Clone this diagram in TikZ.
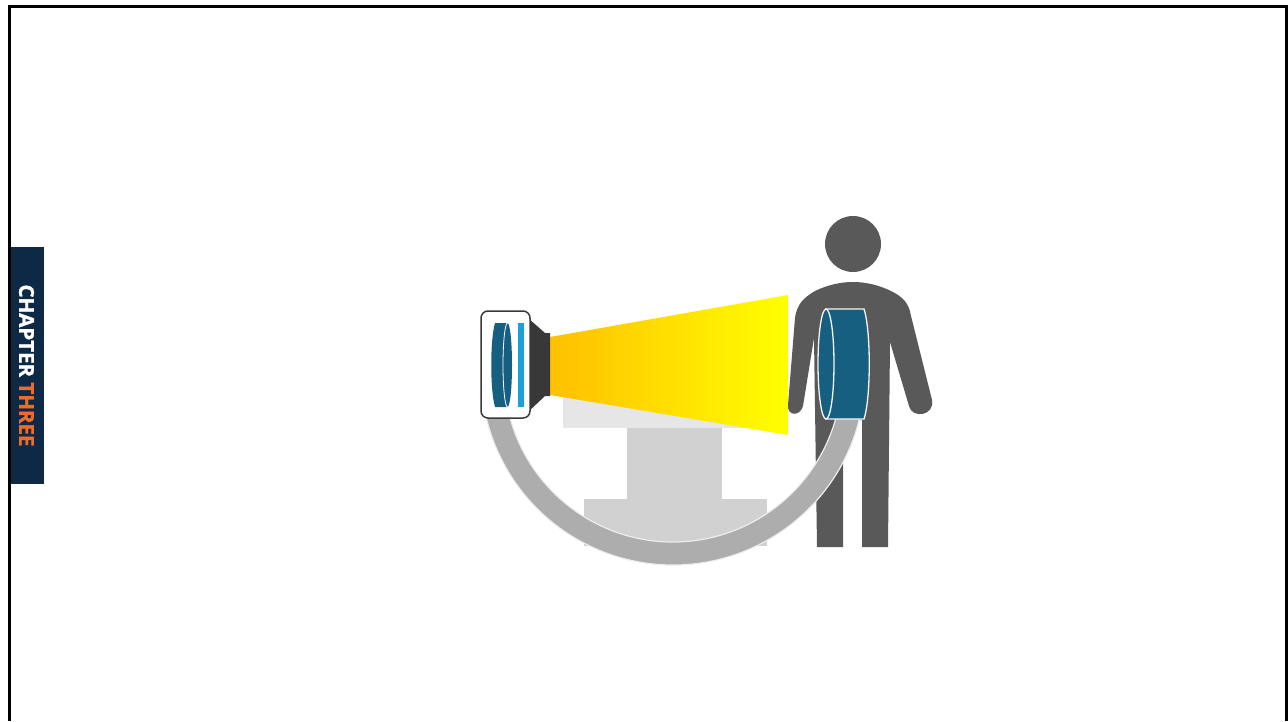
\documentclass[tikz,border=0pt]{standalone}
\usepackage{fontspec}
\usepackage{tikz}
\usetikzlibrary{calc}
\newfontfamily\chapfont{Open Sans}[BoldFeatures={FakeBold=1.4}]
\definecolor{chapnavy}{HTML}{0E2945}
\definecolor{chaporange}{HTML}{EE6C2B}
\definecolor{armgray}{HTML}{ADADAD}
\definecolor{armedge}{HTML}{EDEDED}
\definecolor{slabgray}{HTML}{E6E6E6}
\definecolor{standgray}{HTML}{D1D1D1}
\definecolor{tubedark}{HTML}{383838}
\definecolor{detblue}{HTML}{165F80}
\definecolor{filterblue}{HTML}{1BA1D9}
\definecolor{persongray}{HTML}{595959}
\definecolor{beamorange}{HTML}{FFC000}
\definecolor{beamyellow}{HTML}{FFFF00}
\tikzset{cylface/.style={fill=detblue, draw=white!92!gray, line width=1.3pt}}

\begin{document}
\begin{tikzpicture}[x=1pt,y=-1pt]
  \useasboundingbox (0,0) rectangle (1288,721);
  % page frame, open at the bottom
  \draw[line width=3pt] (9.5,721) -- (9.5,6.5) -- (1286.5,6.5) -- (1286.5,721);
  % chapter tab
  \fill[chapnavy] (11,247) rectangle (44,484);
  \node[rotate=-90, inner sep=0pt, text=white,
    font=\chapfont\bfseries\fontsize{20.5}{20.5}\selectfont] (chap) at (26.5,365.5)
    {CHAPTER {\color{chaporange}THREE}};

  % patient
  \fill[persongray] (853,244) circle[radius=28];
  \fill[persongray] (817,547) -- (814,338) -- (803,406)
    .. controls (800,417) and (787,416) .. (788,405)
    -- (795,318) .. controls (797,303) and (805,297) .. (815,291)
    .. controls (840,279) and (866,279) .. (891,291)
    .. controls (903,297) and (909,303) .. (911,316)
    -- (932,400) .. controls (935,416) and (912,419) .. (909,406)
    -- (890,342) -- (888,547) -- (862,547) -- (862,420)
    -- (843,420) -- (843,547) -- cycle;

  % table
  \fill[slabgray] (563,390) rectangle (783,428);
  \fill[standgray] (627,428) rectangle (722,499);
  \fill[standgray] (584,499) rectangle (767,546);

  % c-arm
  \coordinate (iso) at (673,373);
  \filldraw[fill=armgray, draw=armedge, line width=1.2pt]
    ($(iso)+(12:192)$) arc[start angle=12, end angle=168, radius=192]
    -- ($(iso)+(168:169)$) arc[start angle=168, end angle=12, radius=169] -- cycle;

  % beam
  \shade[left color=beamorange, right color=beamyellow]
    (550,337) -- (788,295) -- (788,435) -- (550,395) -- cycle;

  % tube
  \fill[tubedark] (528,318) -- (545,333) -- (550,333) -- (550,396)
    -- (545,396) -- (528,412) -- cycle;
  \node[draw=tubedark, fill=white, line width=1.5pt, rounded corners=7pt,
    minimum width=49pt, minimum height=107pt, inner sep=0pt] (tube) at (505.5,364.5) {};
  \fill[detblue] (495,323) -- (507.5,323)
    arc[start angle=-90, end angle=90, x radius=4.5, y radius=42]
    -- (495,407) .. controls (490,390) and (490,340) .. (495,323) -- cycle;
  \draw[white, line width=0.8pt] (507.5,323)
    arc[start angle=-90, end angle=-270, x radius=4.5, y radius=42];
  \fill[filterblue] (518,323) rectangle (524,407);

  % detector
  \draw[cylface] (826,309) -- (864,309) .. controls (871,330) and (871,398) .. (864,419)
    -- (826,419) -- cycle;
  \draw[cylface] (826,364) ellipse[x radius=8, y radius=55];
\end{tikzpicture}
\end{document}
